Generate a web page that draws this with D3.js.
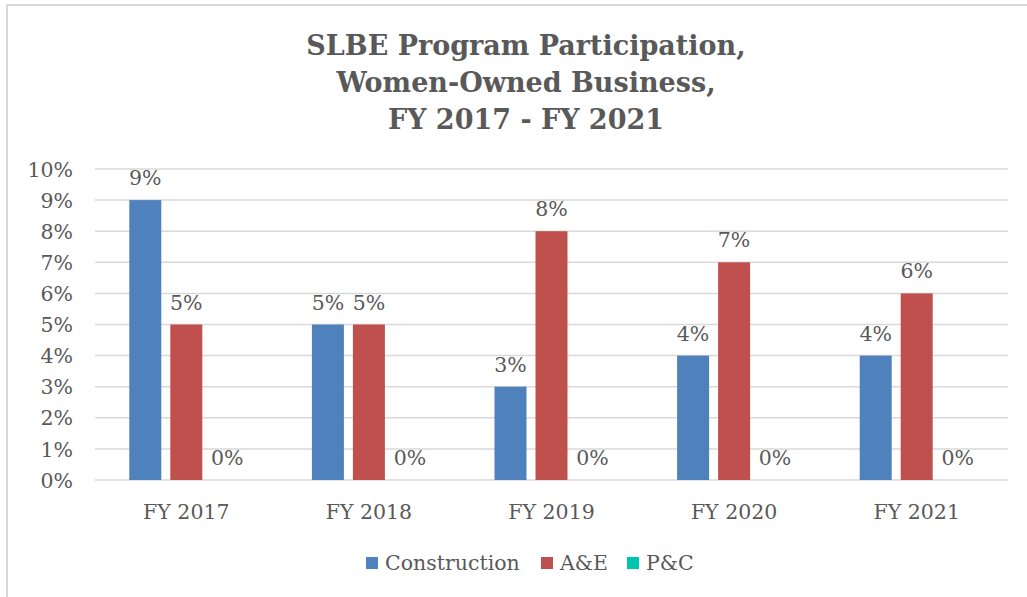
<!DOCTYPE html>
<html>
<head>
<meta charset="utf-8">
<script src="https://cdn.jsdelivr.net/npm/d3@7"></script>
<style>
  body { margin: 0; background: #fff; }
  svg { display: block; }
  text { font-family: "DejaVu Serif", serif; fill: #595959; }
</style>
</head>
<body>
<div id="chart"></div>
<script>
// chart data
const years = ["FY 2017", "FY 2018", "FY 2019", "FY 2020", "FY 2021"];
const seriesNames = ["Construction", "A&E", "P&C"];
const construction = [9, 5, 3, 4, 4];
const ae = [5, 5, 8, 7, 6];
const pc = [0, 0, 0, 0, 0];
const yTicks = [0, 1, 2, 3, 4, 5, 6, 7, 8, 9, 10];
const titleLines = ["SLBE Program Participation,", "Women-Owned Business,", "FY 2017 - FY 2021"];

const colors = ["#4F81BD", "#C0504D", "#00C4B0"];
const values = [construction, ae, pc];

const W = 1027, H = 597;
const svg = d3.select("#chart").append("svg")
  .attr("width", W).attr("height", H);

// outer frame (cut off right / bottom like the source)
svg.append("rect")
  .attr("x", 7).attr("y", 5)
  .attr("width", W + 20).attr("height", H + 20)
  .attr("fill", "none").attr("stroke", "#d9d9d9").attr("stroke-width", 2);

// title
svg.append("g").selectAll("text")
  .data(titleLines)
  .join("text")
  .attr("x", 526)
  .attr("y", (d, i) => 55 + i * 37)
  .attr("text-anchor", "middle")
  .style("font-size", "27px")
  .style("font-weight", "bold")
  .text(d => d);

const plot = { left: 95, right: 1008, top: 169, bottom: 480 };

const x = d3.scaleBand()
  .domain(years)
  .range([plot.left, plot.right]);

// bars 32px wide, 9px apart
const xs = d3.scaleBand()
  .domain(seriesNames)
  .range([0, 114])
  .paddingInner(9 / 41);

const y = d3.scaleLinear()
  .domain([0, 10])
  .range([plot.bottom, plot.top]);

// gridlines
svg.append("g").selectAll("line")
  .data(yTicks)
  .join("line")
  .attr("x1", plot.left).attr("x2", plot.right)
  .attr("y1", d => y(d)).attr("y2", d => y(d))
  .attr("stroke", "#d9d9d9").attr("stroke-width", 1.5);

// y axis labels
const yAxis = d3.axisLeft(y).tickValues(yTicks).tickFormat(d => d + "%").tickSize(0).tickPadding(22);
const yg = svg.append("g").attr("transform", `translate(${plot.left},0)`).call(yAxis);
yg.select(".domain").remove();
yg.selectAll("text").style("font-size", "20.5px").style("font-family", null).attr("dy", "0.35em");

// x axis labels
const xAxis = d3.axisBottom(x).tickSize(0).tickPadding(24);
const xg = svg.append("g").attr("transform", `translate(0,${plot.bottom})`).call(xAxis);
xg.select(".domain").remove();
xg.selectAll("text").style("font-size", "20.5px").style("font-family", null).attr("dy", "0.71em");

// bars and data labels
const groupOffset = (x.bandwidth() - 114) / 2;
seriesNames.forEach((s, si) => {
  const g = svg.append("g");
  g.selectAll("rect")
    .data(values[si])
    .join("rect")
    .attr("x", (d, i) => x(years[i]) + groupOffset + xs(s))
    .attr("y", d => y(d))
    .attr("width", xs.bandwidth())
    .attr("height", d => y(0) - y(d))
    .attr("fill", colors[si]);
  g.selectAll("text")
    .data(values[si])
    .join("text")
    .attr("x", (d, i) => x(years[i]) + groupOffset + xs(s) + xs.bandwidth() / 2)
    .attr("y", d => y(d) - 15)
    .attr("text-anchor", "middle")
    .style("font-size", "20.5px")
    .text(d => d + "%");
});

// legend
const legendX = [366, 541, 627];
const lg = svg.append("g");
seriesNames.forEach((s, i) => {
  lg.append("rect")
    .attr("x", legendX[i]).attr("y", 557)
    .attr("width", 12).attr("height", 12)
    .attr("fill", colors[i]);
  lg.append("text")
    .attr("x", legendX[i] + 19).attr("y", 570)
    .style("font-size", "20.5px")
    .text(s);
});
</script>
</body>
</html>
